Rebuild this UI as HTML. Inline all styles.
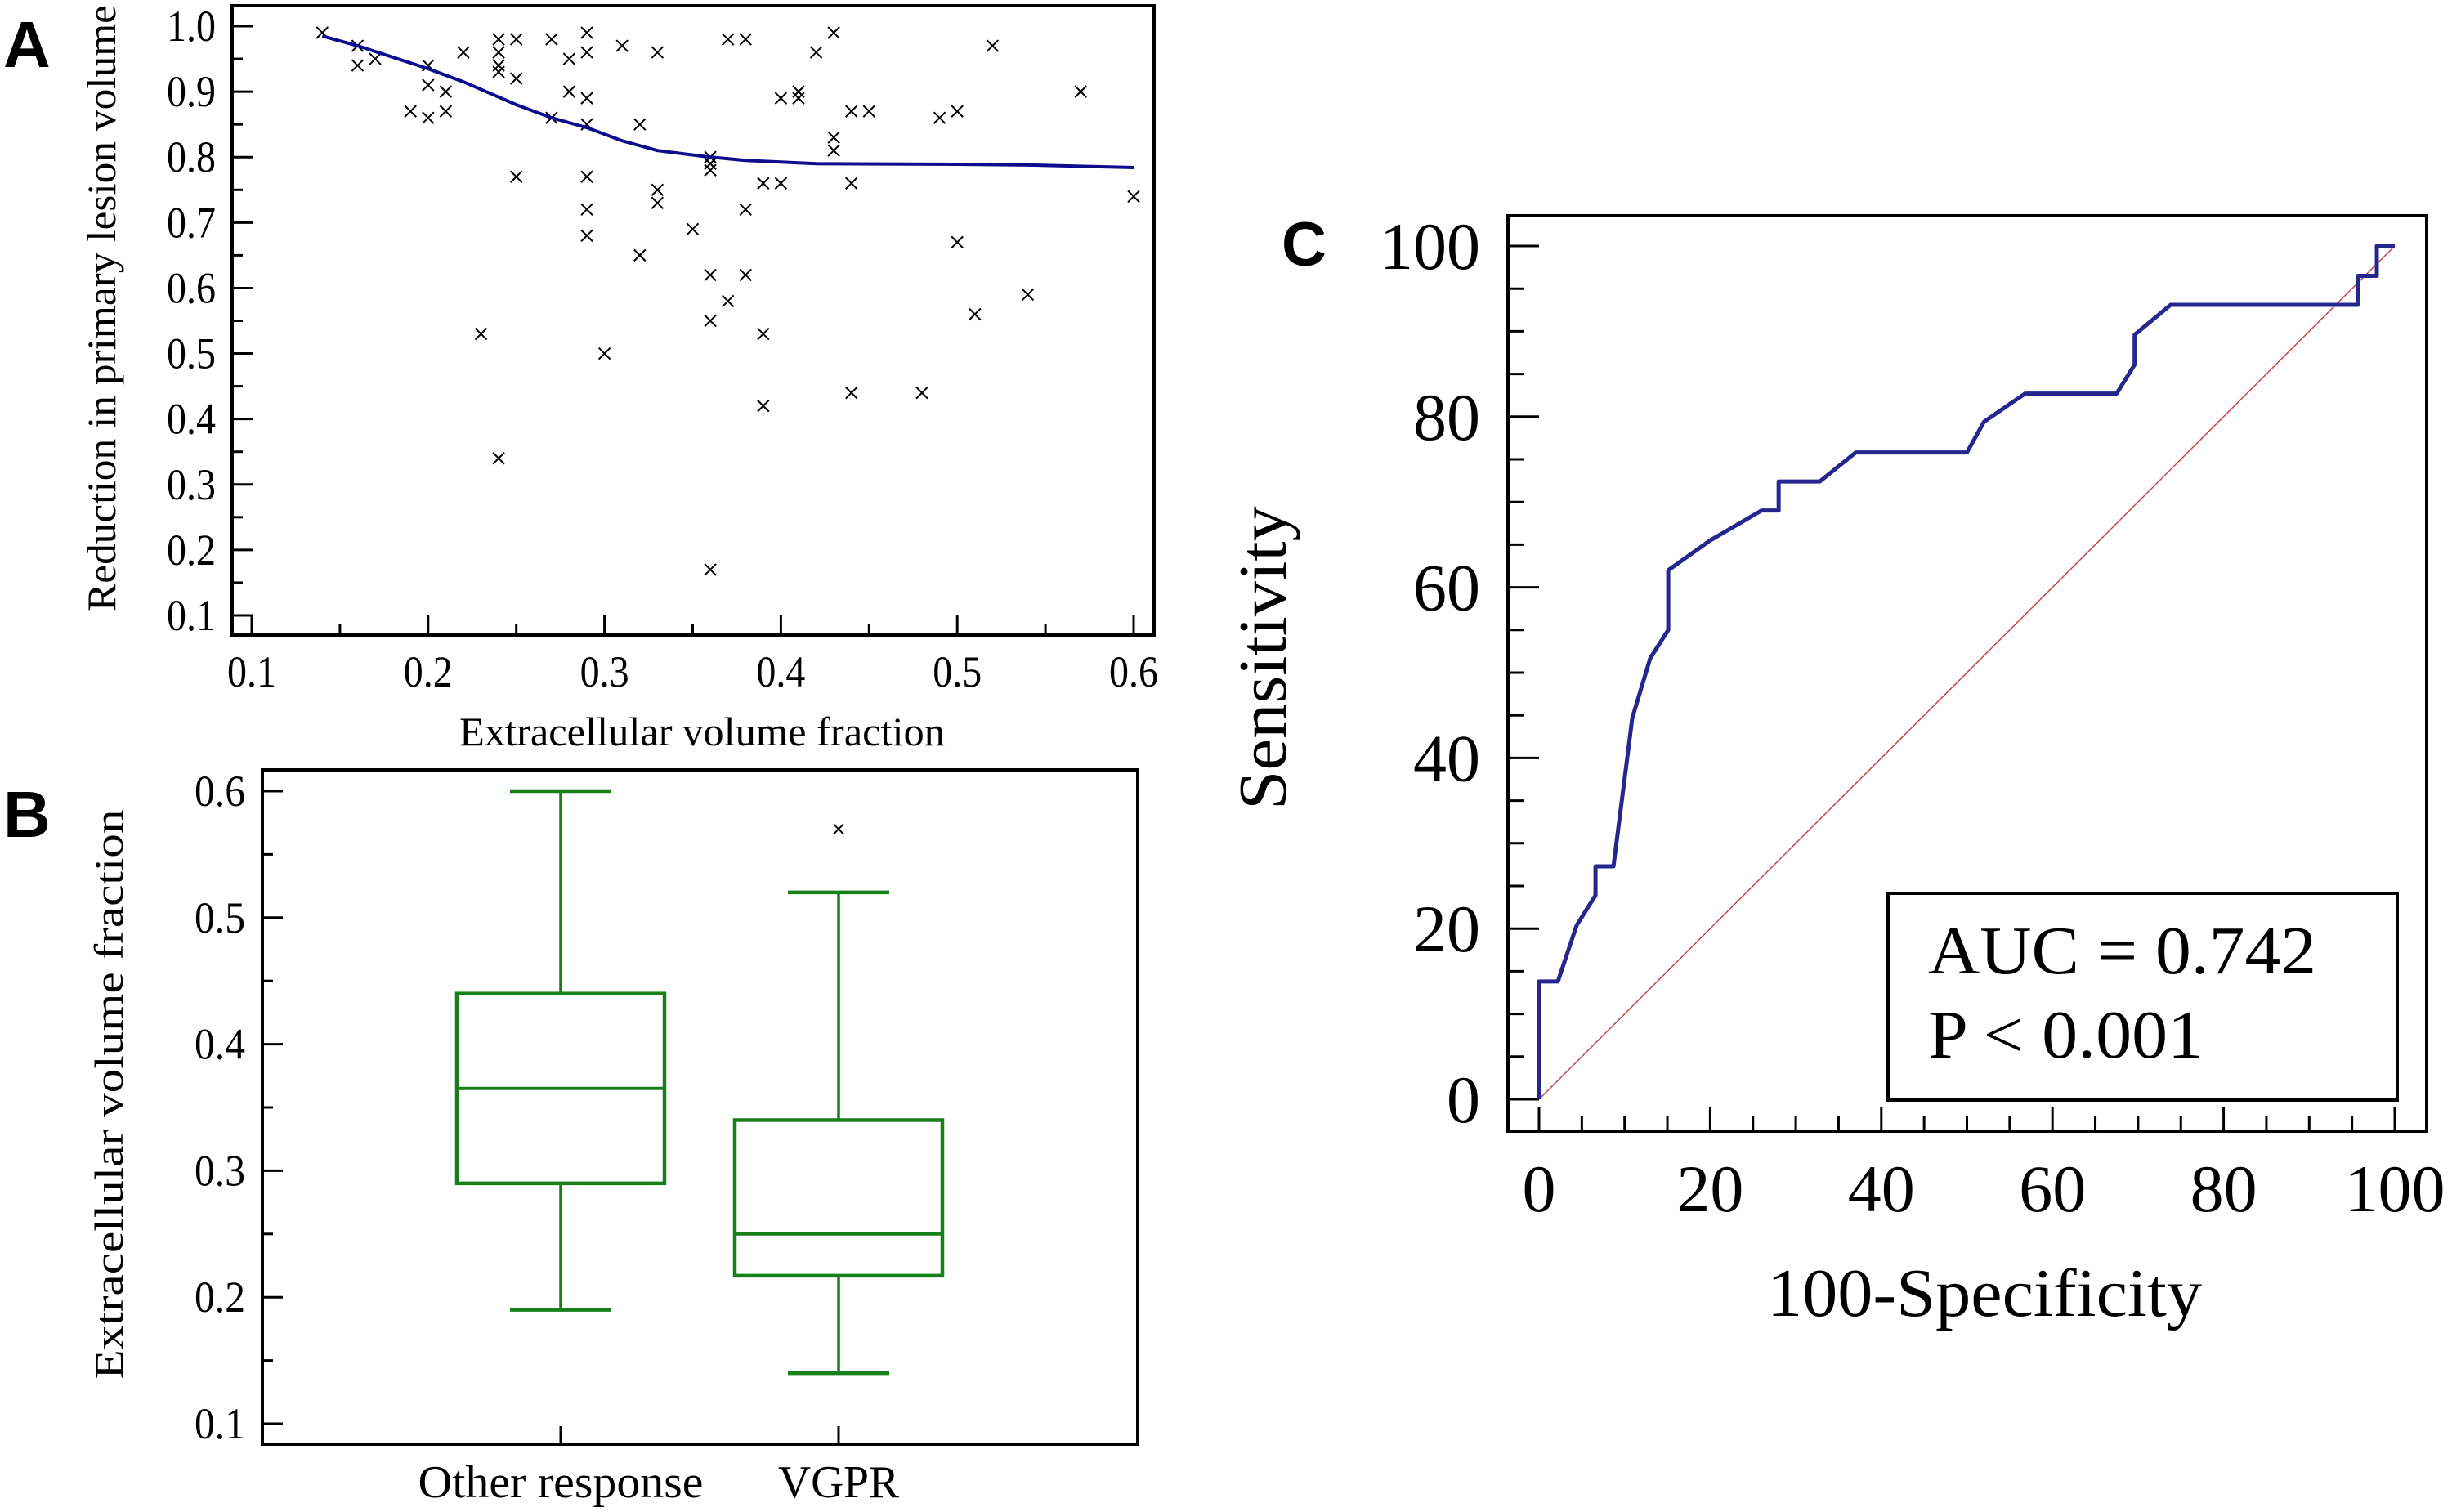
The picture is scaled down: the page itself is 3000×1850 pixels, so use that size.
<!DOCTYPE html>
<html><head><meta charset="utf-8">
<style>
html,body{margin:0;padding:0;background:#fff;}
svg{display:block;}
text{font-family:"Liberation Serif",serif;fill:#000;}
.lbl{font-family:"Liberation Sans",sans-serif;font-weight:bold;}
</style></head>
<body>
<svg id="fig" width="3000" height="1850" viewBox="0 0 3000 1850" xmlns="http://www.w3.org/2000/svg">
<rect x="0" y="0" width="3000" height="1850" fill="#fff"/>
<g id="pA"></g>
<g id="pB"></g>
<g id="pC"></g>
</svg>
<script>
// ---------- Panel A data ----------
const ecvX = [0.14,0.16,0.16,0.17,0.19,0.20,0.20,0.20,0.21,0.21,0.22,0.23,0.24,0.24,0.24,0.24,0.24,0.25,0.25,0.25,0.27,0.27,0.28,0.28,0.29,0.29,0.29,0.29,0.29,0.29,0.29,0.30,0.31,0.32,0.32,0.33,0.33,0.33,0.35,0.36,0.36,0.36,0.36,0.36,0.36,0.37,0.37,0.38,0.38,0.38,0.39,0.39,0.39,0.40,0.40,0.41,0.41,0.42,0.43,0.43,0.43,0.44,0.44,0.44,0.45,0.48,0.49,0.50,0.50,0.51,0.52,0.54,0.57,0.60];
const reductionY = [0.99,0.97,0.94,0.95,0.87,0.94,0.91,0.86,0.90,0.87,0.96,0.53,0.98,0.96,0.94,0.93,0.34,0.98,0.92,0.77,0.98,0.86,0.95,0.90,0.99,0.96,0.89,0.85,0.77,0.72,0.68,0.50,0.97,0.85,0.65,0.96,0.75,0.73,0.69,0.80,0.79,0.78,0.62,0.55,0.17,0.98,0.58,0.98,0.72,0.62,0.76,0.53,0.42,0.89,0.76,0.90,0.89,0.96,0.99,0.83,0.81,0.87,0.76,0.44,0.87,0.44,0.86,0.87,0.67,0.56,0.97,0.59,0.90,0.74];
const loessX = [0.14,0.16,0.20,0.22,0.25,0.27,0.29,0.31,0.33,0.36,0.38,0.42,0.50,0.54,0.60];
const loessY = [0.985,0.97,0.935,0.915,0.88,0.86,0.845,0.825,0.81,0.80,0.795,0.79,0.789,0.788,0.784];
const aXTicks = [0.1,0.2,0.3,0.4,0.5,0.6];
const aYTicks = [0.1,0.2,0.3,0.4,0.5,0.6,0.7,0.8,0.9,1.0];
// ---------- Panel B data ----------
const groups = ["Other response","VGPR"];
const bMin = [0.19,0.14];
const bQ1 = [0.29,0.217];
const bMed = [0.365,0.25];
const bQ3 = [0.44,0.34];
const bMax = [0.60,0.52];
const bOutliers = [[],[0.57]];
const bYTicks = [0.1,0.2,0.3,0.4,0.5,0.6];
// ---------- Panel C data ----------
const rocFpr = [0,0,2.2,4.4,6.6,6.6,8.7,10.9,13,15.1,15.1,20,26,28,28,32.8,37,50,52,56.8,67.5,69.6,69.6,73.8,95.7,95.7,97.9,97.9,100];
const rocTpr = [0,13.8,13.8,20.4,23.9,27.3,27.3,44.7,51.7,55,62,65.5,69,69,72.4,72.4,75.8,75.8,79.4,82.7,82.7,86.1,89.6,93.1,93.1,96.5,96.5,100,100];
const cTicks = [0,20,40,60,80,100];

const NS="http://www.w3.org/2000/svg";
function mk(parent,tag,attrs,txt){const e=document.createElementNS(NS,tag);for(const k in attrs)e.setAttribute(k,attrs[k]);if(txt!==undefined)e.textContent=txt;parent.appendChild(e);return e;}

// ===== Panel A =====
(function(){
const g=document.getElementById('pA');
const L=284,R=1412,T=7,B=777;
const sx=v=>308+(v-0.1)*(1387-308)/0.5;
const sy=v=>32+(1.0-v)*(753-32)/0.9;
let e=mk(g,'rect',{x:L,y:T,width:R-L,height:B-T,fill:'none',stroke:'#000','stroke-width':4});

for(let v=0.1;v<=1.0001;v+=0.05){const maj=Math.abs(Math.round(v*10)-v*10)<1e-6;
 mk(g,'line',{x1:L,x2:L+(maj?25:13),y1:sy(v),y2:sy(v),stroke:'#000','stroke-width':3});}
for(let v=0.1;v<=0.6001;v+=0.05){const maj=Math.abs(Math.round(v*10)-v*10)<1e-6;
 mk(g,'line',{x1:sx(v),x2:sx(v),y1:B,y2:B-(maj?25:13),stroke:'#000','stroke-width':3});}
aYTicks.forEach(v=>{e=mk(g,'text',{x:264,y:sy(v)+18,'font-size':54,'text-anchor':'end',textLength:60,lengthAdjust:'spacingAndGlyphs'},v.toFixed(1));
 });
aXTicks.forEach(v=>{e=mk(g,'text',{x:sx(v),y:840,'font-size':54,'text-anchor':'middle',textLength:60,lengthAdjust:'spacingAndGlyphs'},v.toFixed(1));
 });
e=mk(g,'text',{x:859,y:912,'font-size':50,'text-anchor':'middle',textLength:594,lengthAdjust:'spacingAndGlyphs'},'Extracellular volume fraction');

e=mk(g,'text',{x:0,y:0,'font-size':50,'text-anchor':'middle',textLength:742,lengthAdjust:'spacingAndGlyphs',transform:'translate(141,377) rotate(-90)'},'Reduction in primary lesion volume');

e=mk(g,'text',{x:4,y:82,'font-size':80,class:'lbl'},'A');

ecvX.forEach((xv,i)=>{const cx=sx(xv),cy=sy(reductionY[i]),h=7;
 const p=mk(g,'path',{d:`M${cx-h},${cy-h}L${cx+h},${cy+h}M${cx-h},${cy+h}L${cx+h},${cy-h}`,stroke:'#000','stroke-width':2,fill:'none'});
 
 });
const d=loessX.map((xv,i)=>(i?'L':'M')+sx(xv)+','+sy(loessY[i])).join('');
e=mk(g,'path',{d:d,stroke:'#0c0c8c','stroke-width':4,fill:'none'});

})();

// ===== Panel B =====
(function(){
const g=document.getElementById('pB');
const L=321,R=1392,T=942,B=1767;
const sy=v=>968+(0.6-v)*(1742-968)/0.5;
const cx=[686,1026];
let e=mk(g,'rect',{x:L,y:T,width:R-L,height:B-T,fill:'none',stroke:'#000','stroke-width':4});

for(let v=0.1;v<=0.6001;v+=0.05){const maj=Math.abs(Math.round(v*10)-v*10)<1e-6;
 mk(g,'line',{x1:L,x2:L+(maj?25:13),y1:sy(v),y2:sy(v),stroke:'#000','stroke-width':3});}
cx.forEach(c=>mk(g,'line',{x1:c,x2:c,y1:B,y2:B-22,stroke:'#000','stroke-width':3}));
bYTicks.forEach(v=>{e=mk(g,'text',{x:300,y:sy(v)+18,'font-size':54,'text-anchor':'end',textLength:62,lengthAdjust:'spacingAndGlyphs'},v.toFixed(1));
 });
const gw=[349,148];
groups.forEach((n,i)=>{e=mk(g,'text',{x:cx[i],y:1832,'font-size':56,'text-anchor':'middle',textLength:gw[i],lengthAdjust:'spacingAndGlyphs'},n);
 });
e=mk(g,'text',{x:0,y:0,'font-size':50,'text-anchor':'middle',textLength:697,lengthAdjust:'spacingAndGlyphs',transform:'translate(150,1339) rotate(-90)'},'Extracellular volume fraction');

e=mk(g,'text',{x:4,y:1024,'font-size':80,class:'lbl'},'B');

const col='#16801a',hw=127,cw=62;
groups.forEach((n,i)=>{const c=cx[i];
 const bg=mk(g,'g',{});
 
 
 mk(bg,'line',{x1:c,x2:c,y1:sy(bMax[i]),y2:sy(bQ3[i]),stroke:col,'stroke-width':3.5});
 mk(bg,'line',{x1:c,x2:c,y1:sy(bQ1[i]),y2:sy(bMin[i]),stroke:col,'stroke-width':3.5});
 mk(bg,'line',{x1:c-cw,x2:c+cw,y1:sy(bMax[i]),y2:sy(bMax[i]),stroke:col,'stroke-width':4.5});
 mk(bg,'line',{x1:c-cw,x2:c+cw,y1:sy(bMin[i]),y2:sy(bMin[i]),stroke:col,'stroke-width':4.5});
 mk(bg,'rect',{x:c-hw,y:sy(bQ3[i]),width:2*hw,height:sy(bQ1[i])-sy(bQ3[i]),fill:'none',stroke:col,'stroke-width':4.5});
 mk(bg,'line',{x1:c-hw,x2:c+hw,y1:sy(bMed[i]),y2:sy(bMed[i]),stroke:col,'stroke-width':4});
 bOutliers[i].forEach(o=>{const y=sy(o),h=6;
  const p=mk(bg,'path',{d:`M${c-h},${y-h}L${c+h},${y+h}M${c-h},${y+h}L${c+h},${y-h}`,stroke:'#000','stroke-width':2});
  
  });
});
})();

// ===== Panel C =====
(function(){
const g=document.getElementById('pC');
const L=1845,R=2969,T=264,B=1384;
const sx=v=>1883+v*(2930-1883)/100;
const sy=v=>1345-v*(1345-301)/100;
let e=mk(g,'rect',{x:L,y:T,width:R-L,height:B-T,fill:'none',stroke:'#000','stroke-width':4});

for(let v=0;v<=100;v+=5){const maj=v%20===0;
 mk(g,'line',{x1:L,x2:L+(maj?38:20),y1:sy(v),y2:sy(v),stroke:'#000','stroke-width':3});
 mk(g,'line',{x1:sx(v),x2:sx(v),y1:B,y2:B-(maj?30:18),stroke:'#000','stroke-width':3});}
cTicks.forEach(v=>{e=mk(g,'text',{x:1811,y:sy(v)+28,'font-size':82,'text-anchor':'end'},String(v));
 
 e=mk(g,'text',{x:sx(v),y:1482,'font-size':82,'text-anchor':'middle'},String(v));
 });
e=mk(g,'text',{x:2428,y:1610,'font-size':84,'text-anchor':'middle',textLength:532,lengthAdjust:'spacingAndGlyphs'},'100-Specificity');

e=mk(g,'text',{x:0,y:0,'font-size':84,'text-anchor':'middle',textLength:372,lengthAdjust:'spacingAndGlyphs',transform:'translate(1573,805) rotate(-90)'},'Sensitivity');

e=mk(g,'text',{x:1568,y:325,'font-size':76,class:'lbl'},'C');

e=mk(g,'line',{x1:sx(0),y1:sy(0),x2:sx(100),y2:sy(100),stroke:'#c04848','stroke-width':1.5});

const d=rocFpr.map((xv,i)=>(i?'L':'M')+sx(xv)+','+sy(rocTpr[i])).join('');
e=mk(g,'path',{d:d,stroke:'#26268f','stroke-width':5,fill:'none','stroke-linejoin':'round'});

const lg=mk(g,'g',{});


mk(lg,'rect',{x:2310,y:1093,width:623,height:253,fill:'#fff',stroke:'#000','stroke-width':4});
mk(lg,'text',{x:2359,y:1191,'font-size':84,textLength:475,lengthAdjust:'spacingAndGlyphs'},'AUC = 0.742');
mk(lg,'text',{x:2359,y:1294,'font-size':84,textLength:337,lengthAdjust:'spacingAndGlyphs'},'P < 0.001');
})();
</script>
</body></html>
